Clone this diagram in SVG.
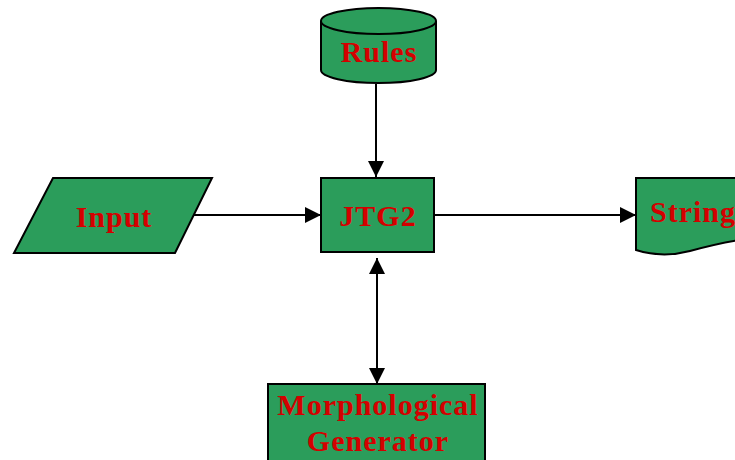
<svg xmlns="http://www.w3.org/2000/svg" width="735" height="460" viewBox="0 0 735 460">
<style>
.shape{fill:#2b9d5b;stroke:#000;stroke-width:2}
.lbl{font-family:"Liberation Serif","Times New Roman",serif;font-weight:bold;font-size:30px;letter-spacing:1px;fill:#d40000;text-anchor:middle}
.conn{stroke:#000;stroke-width:2;fill:none}
</style>
<defs>
<marker id="ah" viewBox="0 0 16 16" refX="16" refY="8" markerWidth="16" markerHeight="16" markerUnits="userSpaceOnUse" orient="auto-start-reverse">
<path d="M0,0 L16,8 L0,16 Z" fill="#000"/>
</marker>
</defs>
<rect width="735" height="460" fill="#fff"/>
<g id="connectors">
<line class="conn" x1="376" y1="84" x2="376" y2="177" marker-end="url(#ah)"/>
<line class="conn" x1="194" y1="215" x2="321" y2="215" marker-end="url(#ah)"/>
<line class="conn" x1="434" y1="215" x2="636" y2="215" marker-end="url(#ah)"/>
<line class="conn" x1="377" y1="258" x2="377" y2="384" marker-start="url(#ah)" marker-end="url(#ah)"/>
</g>
<g id="rules">
<path class="shape" d="M321,21 L321,70 A57.5,13 0 0 0 436,70 L436,21 A57.5,13 0 0 0 321,21 Z"/>
<path class="shape" d="M321,21 A57.5,13 0 0 0 436,21"/>
<text class="lbl" x="379" y="62">Rules</text>
</g>
<g id="input">
<polygon class="shape" points="53,178 212,178 175,253 14,253"/>
<text class="lbl" x="114" y="227">Input</text>
</g>
<g id="jtg2">
<rect class="shape" x="321" y="178" width="113" height="74"/>
<text class="lbl" x="378" y="226">JTG2</text>
</g>
<g id="string">
<path class="shape" d="M740,178 L636,178 L636,250 C655,256 675,255 690,251 C705,247 720,243 740,240"/>
<text class="lbl" x="650" y="222" style="text-anchor:start">String</text>
</g>
<g id="morph">
<rect class="shape" x="268" y="384" width="217" height="85"/>
<text class="lbl" x="378" y="415">Morphological</text>
<text class="lbl" x="378" y="451">Generator</text>
</g>
</svg>
